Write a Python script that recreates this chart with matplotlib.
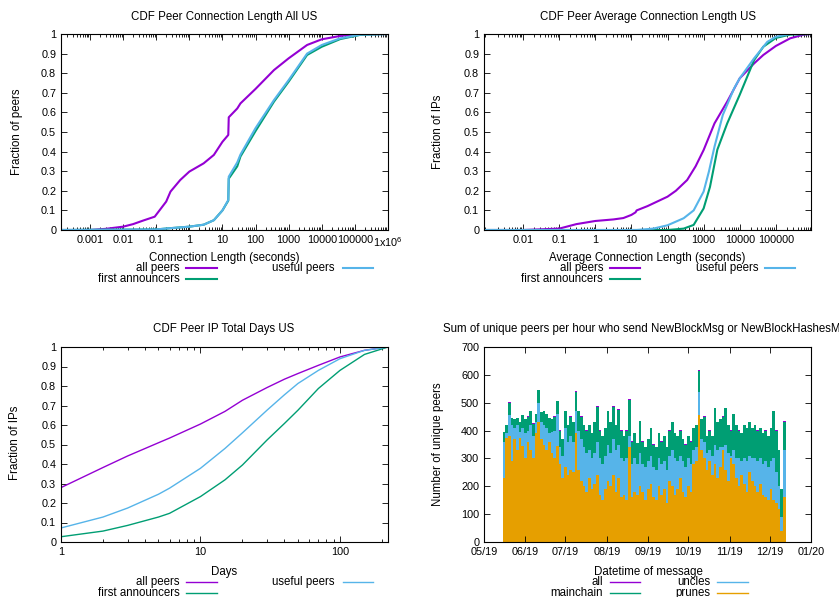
import matplotlib
matplotlib.use('Agg')
import matplotlib.pyplot as plt
import matplotlib.ticker as mticker
import matplotlib.dates as mdates
from matplotlib.lines import Line2D
import numpy as np
import pandas as pd
import datetime as dt

plt.rcParams['font.family'] = ['Liberation Sans', 'DejaVu Sans']
plt.rcParams['mathtext.fontset'] = 'custom'
plt.rcParams['mathtext.rm'] = 'Liberation Sans'
FS = 8.3      # titles, axis labels, keys
FST = 7.8     # tick labels

PURPLE = '#9400d3'
GREEN = '#009e73'
BLUE = '#56b4e9'
ORANGE = '#e69f00'

# ---------------- data: top-left CDF connection length ----------------
tl_x_all = [1.33e-4, 0.001, 0.003, 0.01, 0.02, 0.04, 0.09, 0.2, 0.27, 0.53, 1, 2.7, 5.5, 10, 15,
            15.5, 28, 35, 100, 360, 1000, 3600, 10000, 36000, 150000, 1e6]
tl_y_all = [0, 0.0, 0.006, 0.017, 0.03, 0.048, 0.068, 0.145, 0.196, 0.255, 0.298, 0.34, 0.383, 0.45,
            0.485, 0.575, 0.62, 0.646, 0.72, 0.816, 0.876, 0.944, 0.973, 0.99, 0.998, 1.0]
tl_x_use = [1.33e-4, 0.1, 0.3, 1, 2.7, 5.5, 10, 15, 15.5, 28, 35, 100, 360, 1000, 3600, 10000,
            36000, 150000, 1e6]
tl_y_useful = [0, 0.003, 0.01, 0.017, 0.027, 0.05, 0.10, 0.153, 0.272, 0.345, 0.385, 0.52, 0.663,
               0.765, 0.90, 0.944, 0.978, 0.997, 1.0]
tl_y_first = [0, 0.003, 0.01, 0.017, 0.027, 0.05, 0.10, 0.15, 0.262, 0.325, 0.375, 0.505, 0.655,
              0.757, 0.893, 0.935, 0.974, 0.996, 1.0]

# ---------------- data: top-right CDF average connection length ----------------
tr_x_all = [8.3e-4, 0.01, 0.1, 0.3, 1, 3.2, 6, 10, 13, 14, 28, 100, 170, 350, 600, 1000, 2000, 4500,
            10000, 25000, 45000, 100000, 250000, 600000, 9.4e5]
tr_y_all = [0, 0.0, 0.007, 0.03, 0.046, 0.054, 0.061, 0.077, 0.09, 0.10, 0.122, 0.17, 0.2, 0.255,
            0.325, 0.408, 0.544, 0.655, 0.774, 0.85, 0.893, 0.939, 0.978, 0.997, 1.0]
tr_x_use = [8.3e-4, 14, 40, 100, 280, 530, 1000, 1400, 2000, 3400, 7000, 10000, 25000, 58000,
            100000, 250000, 9.4e5]
tr_y_useful = [0, 0.0, 0.007, 0.024, 0.06, 0.10, 0.196, 0.298, 0.425, 0.587, 0.723, 0.774, 0.876,
               0.96, 0.986, 1.0, 1.0]
tr_x_first = [8.3e-4, 100, 280, 530, 1000, 1500, 2400, 4500, 10000, 25000, 45000, 100000, 250000,
              9.4e5]
tr_y_first = [0, 0.0, 0.007, 0.026, 0.11, 0.22, 0.41, 0.544, 0.69, 0.867, 0.935, 0.98, 0.997, 1.0]

# ---------------- data: bottom-left CDF total days ----------------
bl_days = [1, 2, 3, 5, 6, 10, 15, 20, 30, 40, 50, 70, 100, 150, 221]
bl_all = [0.279, 0.382, 0.441, 0.509, 0.533, 0.605, 0.67, 0.727, 0.792, 0.835, 0.864, 0.906, 0.949,
          0.983, 1.0]
bl_useful = [0.072, 0.128, 0.174, 0.245, 0.276, 0.378, 0.48, 0.56, 0.676, 0.755, 0.813, 0.88, 0.94,
             0.983, 1.0]
bl_first = [0.027, 0.056, 0.085, 0.128, 0.147, 0.233, 0.319, 0.395, 0.523, 0.608, 0.676, 0.787,
            0.88, 0.962, 1.0]

# ---------------- data: bottom-right unique peers (2-day steps from 2019-05-15) ----------------
br_start = '2019-05-15'
br_all = [396, 421, 502, 446, 441, 446, 431, 456, 441, 451, 471, 426, 461, 547, 466, 471, 461,
          446, 441, 451, 507, 401, 371, 471, 421, 451,
          431, 542, 471, 451, 421, 401, 421, 391, 431, 487, 401, 381, 411, 471, 431, 487, 421,
          476, 401, 381, 401, 513, 361, 391, 356, 436,
          361, 341, 371, 411, 351, 341, 391, 361, 381, 341, 401, 431, 391, 381, 401, 371, 351,
          381, 361, 411, 421, 618, 441, 451,
          381, 401, 381, 482, 431, 441, 451, 482, 421, 401, 461, 421, 401, 391, 421, 411, 431,
          411, 421, 401, 411, 391, 401, 381, 411, 472, 401, 331, 191, 433]
br_mainchain = [395, 420, 500, 445, 440, 445, 430, 455, 440, 450, 470, 425, 460, 545, 465, 470, 460,
                445, 440, 450, 505, 400, 370, 470, 420, 450,
                430, 540, 470, 450, 420, 400, 420, 390, 430, 485, 400, 380, 410, 470, 430, 485, 420,
                475, 400, 380, 400, 510, 360, 390, 355, 435,
                360, 340, 370, 410, 350, 340, 390, 360, 380, 340, 400, 430, 390, 380, 400, 370, 350,
                380, 360, 410, 420, 615, 440, 450,
                380, 400, 380, 480, 430, 440, 450, 480, 420, 400, 460, 420, 400, 390, 420, 410, 430,
                410, 420, 400, 410, 390, 400, 380, 410, 470, 400, 330, 190, 430]
br_uncles = [360, 390, 455, 420, 410, 420, 395, 410, 390, 400, 420, 380, 430, 500, 430, 420, 410, 390,
             395, 400, 460, 340, 310, 410, 360, 380,
             360, 470, 400, 370, 340, 320, 330, 300, 320, 360, 300, 280, 310, 350, 320, 370, 330, 350,
             300, 290, 300, 380, 280, 300, 280, 320,
             280, 270, 290, 310, 270, 260, 300, 280, 290, 260, 310, 330, 300, 290, 310, 290, 270, 300,
             280, 330, 340, 540, 370, 360,
             320, 330, 310, 350, 330, 340, 340, 350, 320, 310, 330, 300, 300, 290, 300, 290, 310, 300,
             300, 290, 300, 280, 290, 270, 290, 300, 250, 200, 90, 330]
br_prunes = [230, 375, 380, 290, 370, 330, 375, 345, 300, 360, 330, 300, 390, 430, 370, 350, 330, 360,
             320, 300, 345, 280, 230, 270, 240, 260,
             250, 390, 260, 220, 200, 180, 230, 190, 210, 240, 170, 150, 190, 220, 200, 240, 180, 230,
             160, 170, 150, 340, 160, 180, 170, 200,
             180, 150, 190, 210, 160, 150, 200, 170, 190, 140, 220, 200, 170, 190, 230, 180, 160, 200,
             180, 280, 290, 455, 330, 300,
             260, 290, 240, 280, 230, 270, 330, 260, 220, 300, 280, 230, 200, 240, 210, 180, 250, 220,
             200, 180, 210, 170, 160, 150, 190, 150, 140, 120, 40, 160]
br_step_days = 2

# ---------------- figure ----------------
W, H = 839, 597
fig = plt.figure(figsize=(W / 100, H / 100), dpi=100)


def fx(x):
    return x / W


def fy(y):
    return 1 - y / H


def ax_at(l, t, r, b):
    return fig.add_axes([l / W, 1 - b / H, (r - l) / W, (b - t) / H])


def txt(x, y, s, ha='center', rot=0):
    fig.text(fx(x), fy(y), s, ha=ha, va='center', fontsize=FS, rotation=rot)


def key(xr, y, label, color, x0, x1, lw):
    txt(xr, y, label, ha='right')
    fig.add_artist(Line2D([fx(x0), fx(x1)], [fy(y), fy(y)], color=color, lw=lw,
                          transform=fig.transFigure))


def style(ax):
    for s in ax.spines.values():
        s.set_linewidth(0.8)
    ax.tick_params(which='both', direction='in', top=True, right=True, labelsize=FST, width=0.6)
    ax.tick_params(which='major', length=4, pad=3.5)
    ax.tick_params(which='minor', length=2)


yfmt = mticker.FuncFormatter(lambda v, p: f'{v:g}')

# ---- top-left ----
ax1 = ax_at(61, 34, 388, 230)
LW = 1.5
ax1.plot(tl_x_all, tl_y_all, color=PURPLE, lw=LW)
ax1.plot(tl_x_use, tl_y_first, color=GREEN, lw=LW)
ax1.plot(tl_x_use, tl_y_useful, color=BLUE, lw=LW)
ax1.set_xscale('log')
ax1.set_xlim(1.33e-4, 1e6)
ax1.set_ylim(0, 1)
ax1.set_xticks([10.0 ** k for k in range(-3, 7)])
ax1.set_xticklabels(['0.001', '0.01', '0.1', '1', '10', '100', '1000', '10000', '100000',
                     '1x10$^6$'])
ax1.xaxis.set_minor_locator(mticker.LogLocator(base=10, subs=np.arange(2, 10), numticks=20))
ax1.xaxis.set_minor_formatter(mticker.NullFormatter())
ax1.set_yticks(np.arange(0, 1.01, 0.1))
ax1.yaxis.set_major_formatter(yfmt)
style(ax1)
txt(224, 17, 'CDF Peer Connection Length All US')
txt(224, 258, 'Connection Length (seconds)')
txt(17, 132, 'Fraction of peers', rot=90)
key(180, 268, 'all peers', PURPLE, 186, 217, LW)
key(180, 279, 'first announcers', GREEN, 186, 217, LW)
key(334, 268, 'useful peers', BLUE, 343, 373, LW)

# ---- top-right ----
ax2 = ax_at(484, 34, 811, 230)
ax2.plot(tr_x_all, tr_y_all, color=PURPLE, lw=LW)
ax2.plot(tr_x_first, tr_y_first, color=GREEN, lw=LW)
ax2.plot(tr_x_use, tr_y_useful, color=BLUE, lw=LW)
ax2.set_xscale('log')
ax2.set_xlim(8.3e-4, 9.4e5)
ax2.set_ylim(0, 1)
ax2.set_xticks([10.0 ** k for k in range(-2, 6)])
ax2.set_xticklabels(['0.01', '0.1', '1', '10', '100', '1000', '10000', '100000'])
ax2.xaxis.set_minor_locator(mticker.LogLocator(base=10, subs=np.arange(2, 10), numticks=20))
ax2.xaxis.set_minor_formatter(mticker.NullFormatter())
ax2.set_yticks(np.arange(0, 1.01, 0.1))
ax2.yaxis.set_major_formatter(yfmt)
style(ax2)
txt(647.5, 17, 'CDF Peer Average Connection Length US')
txt(647.5, 258, 'Average Connection Length (seconds)')
txt(438, 132, 'Fraction of IPs', rot=90)
key(603, 268, 'all peers', PURPLE, 610, 640, LW)
key(603, 279, 'first announcers', GREEN, 610, 640, LW)
key(758, 268, 'useful peers', BLUE, 765, 795, LW)

# ---- bottom-left ----
ax3 = ax_at(61, 347, 388, 542)
LW3 = 1.0
ax3.plot(bl_days, bl_all, color=PURPLE, lw=LW3)
ax3.plot(bl_days, bl_first, color=GREEN, lw=LW3)
ax3.plot(bl_days, bl_useful, color=BLUE, lw=LW3)
ax3.set_xscale('log')
ax3.set_xlim(1, 221)
ax3.set_ylim(0, 1)
ax3.set_xticks([1, 10, 100])
ax3.set_xticklabels(['1', '10', '100'])
ax3.xaxis.set_minor_locator(mticker.LogLocator(base=10, subs=np.arange(2, 10), numticks=20))
ax3.xaxis.set_minor_formatter(mticker.NullFormatter())
ax3.set_yticks(np.arange(0, 1.01, 0.1))
ax3.yaxis.set_major_formatter(yfmt)
style(ax3)
txt(224, 329, 'CDF Peer IP Total Days US')
txt(224, 572, 'Days')
txt(15, 443, 'Fraction of IPs', rot=90)
key(180, 582, 'all peers', PURPLE, 186, 217, LW3)
key(180, 593, 'first announcers', GREEN, 186, 217, LW3)
key(334, 582, 'useful peers', BLUE, 343, 373, LW3)

# ---- bottom-right ----
ax4 = ax_at(484, 347, 811, 542)
n = len(br_mainchain)
start = mdates.date2num(pd.Timestamp(br_start))
edges = start + br_step_days * np.arange(n + 1)
for vals, col in [(br_all, PURPLE), (br_mainchain, GREEN), (br_uncles, BLUE), (br_prunes, ORANGE)]:
    ax4.stairs(vals, edges, fill=True, color=col, linewidth=0)
ax4.xaxis_date()
ax4.set_xlim(mdates.date2num(dt.datetime(2019, 5, 1)), mdates.date2num(dt.datetime(2020, 1, 1)))
ax4.set_ylim(0, 700)
ax4.xaxis.set_major_locator(mdates.MonthLocator())
ax4.xaxis.set_major_formatter(mdates.DateFormatter('%m/%y'))
ax4.set_yticks(np.arange(0, 701, 100))
style(ax4)
fig.text(fx(443), fy(329), 'Sum of unique peers per hour who send NewBlockMsg or NewBlockHashesMsg',
         ha='left', va='center', fontsize=FS)
txt(648, 572, 'Datetime of message')
txt(438, 444, 'Number of unique peers', rot=90)
key(603, 582, 'all', PURPLE, 610, 640, LW3)
key(603, 593, 'mainchain', GREEN, 610, 640, LW3)
key(710, 582, 'uncles', BLUE, 717, 748, LW3)
key(710, 593, 'prunes', ORANGE, 717, 748, LW3)

fig.savefig('out.png', dpi=100)
